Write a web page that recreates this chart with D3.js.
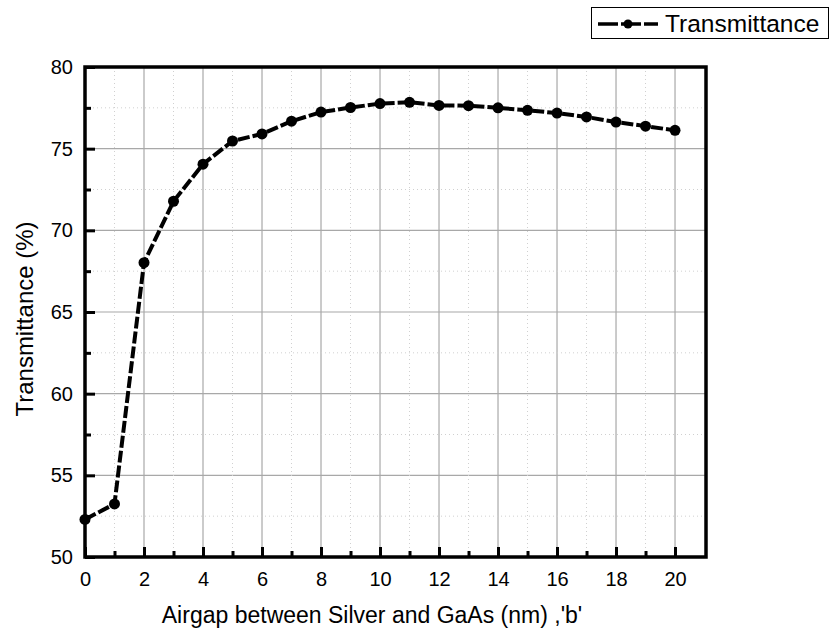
<!DOCTYPE html>
<html>
<head>
<meta charset="utf-8">
<script src="https://cdn.jsdelivr.net/npm/d3@7"></script>
<style>
    body { margin: 0; background: #fff; }
    svg { font-family: "Liberation Sans", Arial, sans-serif; }
</style>
</head>
<body>
<div id="chart"></div>
<script>
// data
const airgap = [0, 1, 2, 3, 4, 5, 6, 7, 8, 9, 10, 11, 12, 13, 14, 15, 16, 17, 18, 19, 20];
const transmittance = [52.3, 53.25, 68.02, 71.78, 74.05, 75.47, 75.9, 76.68, 77.24, 77.52, 77.76, 77.84,
    77.65, 77.63, 77.5, 77.35, 77.18, 76.94, 76.63, 76.38, 76.12];
const xMajorTicks = [0, 2, 4, 6, 8, 10, 12, 14, 16, 18, 20];
const xMinorTicks = [1, 3, 5, 7, 9, 11, 13, 15, 17, 19];
const yMajorTicks = [50, 55, 60, 65, 70, 75, 80];
const yMinorTicks = [52.5, 57.5, 62.5, 67.5, 72.5, 77.5];
const seriesName = 'Transmittance';

const width = 830, height = 632;
const plotLeft = 85, plotTop = 67, plotRight = 706, plotBottom = 557;

const svg = d3.select('#chart').append('svg')
    .attr('width', width)
    .attr('height', height);

const x = d3.scaleLinear().domain([0, 21.05]).range([plotLeft, plotRight]);
const y = d3.scaleLinear().domain([50, 80]).range([plotBottom, plotTop]);

// grid
const grid = svg.append('g');
grid.selectAll('.gx').data(xMajorTicks.filter(d => d > 0)).enter().append('line')
    .attr('x1', d => x(d)).attr('x2', d => x(d)).attr('y1', plotTop).attr('y2', plotBottom)
    .attr('stroke', '#a8a8a8').attr('stroke-width', 1.2);
grid.selectAll('.gy').data(yMajorTicks.filter(d => d > 50 && d < 80)).enter().append('line')
    .attr('x1', plotLeft).attr('x2', plotRight).attr('y1', d => y(d)).attr('y2', d => y(d))
    .attr('stroke', '#a8a8a8').attr('stroke-width', 1.2);
grid.selectAll('.mx').data(xMinorTicks).enter().append('line')
    .attr('x1', d => x(d)).attr('x2', d => x(d)).attr('y1', plotTop).attr('y2', plotBottom)
    .attr('stroke', '#d0d0d0').attr('stroke-width', 1).attr('stroke-dasharray', '1,3');
grid.selectAll('.my').data(yMinorTicks).enter().append('line')
    .attr('x1', plotLeft).attr('x2', plotRight).attr('y1', d => y(d)).attr('y2', d => y(d))
    .attr('stroke', '#d0d0d0').attr('stroke-width', 1).attr('stroke-dasharray', '1,3');

// axes with inward ticks
const xAxis = svg.append('g').attr('transform', `translate(0,${plotBottom})`)
    .call(d3.axisBottom(x).tickValues(xMajorTicks).tickSize(-10).tickPadding(15).tickFormat(d3.format('d')));
const xMinor = svg.append('g').attr('transform', `translate(0,${plotBottom})`)
    .call(d3.axisBottom(x).tickValues(xMinorTicks).tickSize(-6).tickFormat(''));
const yAxis = svg.append('g').attr('transform', `translate(${plotLeft},0)`)
    .call(d3.axisLeft(y).tickValues(yMajorTicks).tickSize(-10).tickPadding(12).tickFormat(d3.format('d')));
const yMinor = svg.append('g').attr('transform', `translate(${plotLeft},0)`)
    .call(d3.axisLeft(y).tickValues(yMinorTicks).tickSize(-6).tickFormat(''));

[xAxis, xMinor, yAxis, yMinor].forEach(g => {
    g.select('.domain').remove();
    g.attr('font-size', 20).attr('font-family', null);
    g.selectAll('.tick line').attr('stroke', '#000').attr('stroke-width', 3);
    g.selectAll('.tick text').attr('fill', '#000');
});

// frame
svg.append('rect')
    .attr('x', plotLeft).attr('y', plotTop)
    .attr('width', plotRight - plotLeft).attr('height', plotBottom - plotTop)
    .attr('fill', 'none').attr('stroke', '#000').attr('stroke-width', 3.5);

// series
const line = d3.line().x((d, i) => x(airgap[i])).y(d => y(d));
svg.append('path')
    .datum(transmittance)
    .attr('d', line)
    .attr('fill', 'none')
    .attr('stroke', '#000')
    .attr('stroke-width', 4)
    .attr('stroke-dasharray', '12,3');

svg.selectAll('.pt').data(transmittance).enter().append('circle')
    .attr('cx', (d, i) => x(airgap[i]))
    .attr('cy', d => y(d))
    .attr('r', 5.5)
    .attr('fill', '#000');

// axis titles
svg.append('text')
    .attr('x', 372).attr('y', 623)
    .attr('text-anchor', 'middle')
    .style('font-size', '23px')
    .text("Airgap between Silver and GaAs (nm) ,'b'");

svg.append('text')
    .attr('transform', 'translate(33,319) rotate(-90)')
    .attr('text-anchor', 'middle')
    .style('font-size', '24px')
    .text('Transmittance (%)');

// legend
const legend = svg.append('g');
legend.append('rect')
    .attr('x', 591.5).attr('y', 7.5).attr('width', 237).attr('height', 31)
    .attr('fill', '#fff').attr('stroke', '#000').attr('stroke-width', 1);
legend.append('line')
    .attr('x1', 598).attr('x2', 658).attr('y1', 24).attr('y2', 24)
    .attr('stroke', '#000').attr('stroke-width', 3.5).attr('stroke-dasharray', '20,3');
legend.append('circle').attr('cx', 628).attr('cy', 24).attr('r', 4.5).attr('fill', '#000');
legend.append('text')
    .attr('x', 665).attr('y', 32)
    .style('font-size', '24.5px')
    .text(seriesName);
</script>
</body>
</html>
